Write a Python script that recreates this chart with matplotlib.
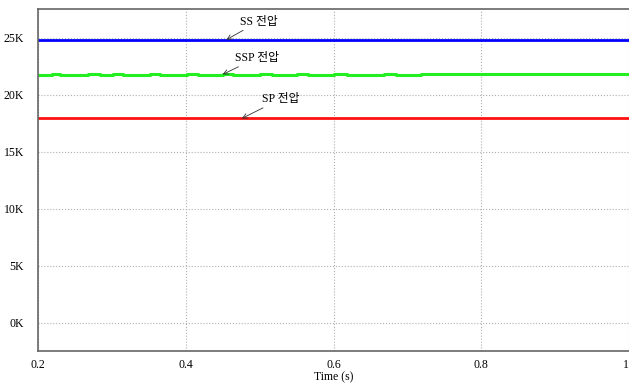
import matplotlib.pyplot as plt
import numpy as np

plt.rcParams['font.family'] = ['Liberation Serif', 'Noto Sans CJK KR']

# simulation output, time in seconds, voltage in volts
t_flat = [0.2, 1.0]
ss_volt = [24800, 24800]
sp_volt = [17900, 17900]

# SSP voltage toggles between two close levels
ssp_time = [0.2, 0.219, 0.230, 0.268, 0.284, 0.302, 0.315, 0.352, 0.365,
            0.402, 0.416, 0.451, 0.464, 0.501, 0.517, 0.551, 0.566, 0.600,
            0.618, 0.668, 0.684, 0.718, 1.0]
ssp_volt = [21700, 21760, 21700, 21760, 21700, 21760, 21700, 21760, 21700,
            21760, 21700, 21760, 21700, 21760, 21700, 21760, 21700, 21760,
            21700, 21760, 21700, 21760, 21760]

xticks = [0.2, 0.4, 0.6, 0.8, 1.0]
xtick_labels = ['0.2', '0.4', '0.6', '0.8', '1']
yticks = [0, 5000, 10000, 15000, 20000, 25000]
ytick_labels = ['0K', '5K', '10K', '15K', '20K', '25K']

fig = plt.figure(figsize=(6.29, 3.83), dpi=100)
ax = fig.add_axes([38 / 629, 32 / 383, 591 / 629, 342 / 383])

ax.plot(t_flat, ss_volt, color='#0000ff', lw=2)
ax.step(ssp_time, ssp_volt, where='post', color='#22ee22', lw=2.2)
ax.plot(t_flat, sp_volt, color='#ff1010', lw=2)

ax.set_xlim(0.2, 1.0)
ax.set_ylim(-2500, 27500)
ax.set_xticks(xticks)
ax.set_xticklabels(xtick_labels)
ax.get_xticklabels()[-1].set_horizontalalignment('right')
ax.set_yticks(yticks)
ax.set_yticklabels(ytick_labels)
ax.tick_params(length=0, labelsize=8.5, pad=6)
ax.tick_params(axis='y', pad=10)
ax.grid(True, color='#b0b0b0', linestyle=':', lw=0.8)
ax.set_axisbelow(True)

for side in ['left', 'bottom', 'top']:
    ax.spines[side].set_color('#666666')
    ax.spines[side].set_linewidth(1.2)
ax.spines['right'].set_visible(False)

ax.set_xlabel('Time (s)', fontsize=8.5, labelpad=0)

arrow = dict(arrowstyle='->', color='#333333', lw=0.6, shrinkA=0, shrinkB=0)
ax.annotate('SS 전압', xy=(0.455, 24800), xytext=(0.473, 26400),
            fontsize=8.5, arrowprops=arrow, va='center')
ax.annotate('SSP 전압', xy=(0.45, 21760), xytext=(0.466, 23200),
            fontsize=8.5, arrowprops=arrow, va='center')
ax.annotate('SP 전압', xy=(0.476, 17900), xytext=(0.503, 19600),
            fontsize=8.5, arrowprops=arrow, va='center')

fig.savefig('out.png', dpi=100)
